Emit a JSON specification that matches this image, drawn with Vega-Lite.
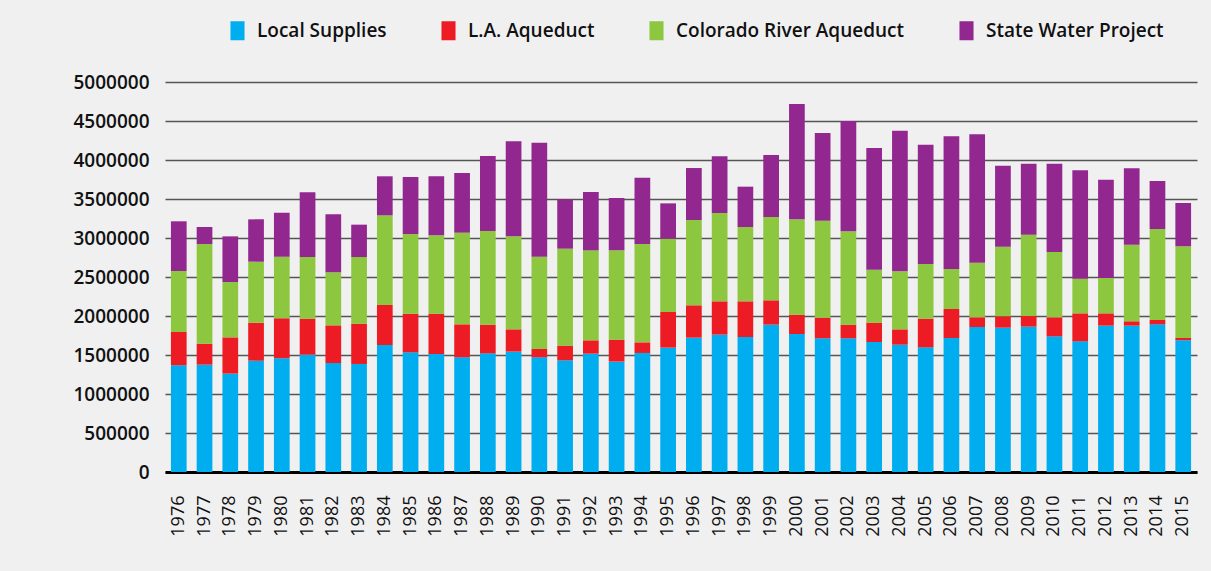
{
  "$schema": "https://vega.github.io/schema/vega-lite/v6.json",
  "autosize": {"type": "none"},
  "width": 1032,
  "height": 390,
  "padding": {"left": 165, "top": 82, "right": 14, "bottom": 99},
  "background": "#f0f0f1",
  "data": {
    "values": [
      {"year": "1976", "a_local": 1368000, "b_la": 427000, "c_cra": 782000, "d_swp": 637000},
      {"year": "1977", "a_local": 1376000, "b_la": 269000, "c_cra": 1278000, "d_swp": 218000},
      {"year": "1978", "a_local": 1261000, "b_la": 465000, "c_cra": 710000, "d_swp": 585000},
      {"year": "1979", "a_local": 1427000, "b_la": 488000, "c_cra": 782000, "d_swp": 542000},
      {"year": "1980", "a_local": 1457000, "b_la": 513000, "c_cra": 791000, "d_swp": 564000},
      {"year": "1981", "a_local": 1504000, "b_la": 462000, "c_cra": 790000, "d_swp": 829000},
      {"year": "1982", "a_local": 1397000, "b_la": 483000, "c_cra": 680000, "d_swp": 743000},
      {"year": "1983", "a_local": 1385000, "b_la": 517000, "c_cra": 854000, "d_swp": 415000},
      {"year": "1984", "a_local": 1628000, "b_la": 513000, "c_cra": 1150000, "d_swp": 500000},
      {"year": "1985", "a_local": 1534000, "b_la": 496000, "c_cra": 1021000, "d_swp": 731000},
      {"year": "1986", "a_local": 1513000, "b_la": 517000, "c_cra": 1004000, "d_swp": 757000},
      {"year": "1987", "a_local": 1470000, "b_la": 423000, "c_cra": 1175000, "d_swp": 765000},
      {"year": "1988", "a_local": 1521000, "b_la": 368000, "c_cra": 1201000, "d_swp": 961000},
      {"year": "1989", "a_local": 1543000, "b_la": 286000, "c_cra": 1192000, "d_swp": 1218000},
      {"year": "1990", "a_local": 1470000, "b_la": 107000, "c_cra": 1184000, "d_swp": 1461000},
      {"year": "1991", "a_local": 1432000, "b_la": 188000, "c_cra": 1243000, "d_swp": 633000},
      {"year": "1992", "a_local": 1517000, "b_la": 171000, "c_cra": 1154000, "d_swp": 748000},
      {"year": "1993", "a_local": 1415000, "b_la": 282000, "c_cra": 1145000, "d_swp": 671000},
      {"year": "1994", "a_local": 1526000, "b_la": 136000, "c_cra": 1261000, "d_swp": 851000},
      {"year": "1995", "a_local": 1594000, "b_la": 457000, "c_cra": 940000, "d_swp": 453000},
      {"year": "1996", "a_local": 1722000, "b_la": 415000, "c_cra": 1094000, "d_swp": 666000},
      {"year": "1997", "a_local": 1761000, "b_la": 427000, "c_cra": 1133000, "d_swp": 726000},
      {"year": "1998", "a_local": 1731000, "b_la": 457000, "c_cra": 953000, "d_swp": 517000},
      {"year": "1999", "a_local": 1889000, "b_la": 312000, "c_cra": 1068000, "d_swp": 795000},
      {"year": "2000", "a_local": 1769000, "b_la": 248000, "c_cra": 1222000, "d_swp": 1479000},
      {"year": "2001", "a_local": 1714000, "b_la": 265000, "c_cra": 1243000, "d_swp": 1124000},
      {"year": "2002", "a_local": 1714000, "b_la": 175000, "c_cra": 1196000, "d_swp": 1415000},
      {"year": "2003", "a_local": 1667000, "b_la": 248000, "c_cra": 679000, "d_swp": 1560000},
      {"year": "2004", "a_local": 1632000, "b_la": 197000, "c_cra": 744000, "d_swp": 1803000},
      {"year": "2005", "a_local": 1598000, "b_la": 368000, "c_cra": 701000, "d_swp": 1530000},
      {"year": "2006", "a_local": 1718000, "b_la": 372000, "c_cra": 513000, "d_swp": 1700000},
      {"year": "2007", "a_local": 1859000, "b_la": 124000, "c_cra": 701000, "d_swp": 1645000},
      {"year": "2008", "a_local": 1850000, "b_la": 146000, "c_cra": 893000, "d_swp": 1038000},
      {"year": "2009", "a_local": 1863000, "b_la": 137000, "c_cra": 1043000, "d_swp": 910000},
      {"year": "2010", "a_local": 1739000, "b_la": 244000, "c_cra": 837000, "d_swp": 1133000},
      {"year": "2011", "a_local": 1675000, "b_la": 359000, "c_cra": 445000, "d_swp": 1389000},
      {"year": "2012", "a_local": 1876000, "b_la": 158000, "c_cra": 453000, "d_swp": 1261000},
      {"year": "2013", "a_local": 1876000, "b_la": 56000, "c_cra": 983000, "d_swp": 978000},
      {"year": "2014", "a_local": 1893000, "b_la": 56000, "c_cra": 1166000, "d_swp": 616000},
      {"year": "2015", "a_local": 1688000, "b_la": 30000, "c_cra": 1175000, "d_swp": 556000}
    ]
  },
  "transform": [
    {"fold": ["a_local", "b_la", "c_cra", "d_swp"], "as": ["source", "value"]}
  ],
  "mark": {"type": "bar"},
  "encoding": {
    "x": {
      "field": "year",
      "type": "ordinal",
      "title": null,
      "scale": {"paddingInner": 0.39, "paddingOuter": 0.23},
      "axis": {
        "labelAngle": -90,
        "labelFont": "Open Sans",
        "labelFontSize": 18,
        "labelColor": "#111111",
        "labelPadding": 23,
        "ticks": false,
        "domainColor": "#000000",
        "domainWidth": 3,
        "grid": false
      }
    },
    "y": {
      "field": "value",
      "type": "quantitative",
      "stack": "zero",
      "title": null,
      "scale": {"domain": [0, 5000000], "nice": false},
      "axis": {
        "values": [0, 500000, 1000000, 1500000, 2000000, 2500000, 3000000, 3500000, 4000000, 4500000, 5000000],
        "format": "d",
        "labelFont": "Open Sans",
        "labelFontSize": 19,
        "labelFontWeight": 600,
        "labelColor": "#111111",
        "labelPadding": 16,
        "ticks": false,
        "domain": false,
        "grid": true,
        "gridColor": "#555555",
        "gridWidth": 1.5
      }
    },
    "order": {"field": "source", "sort": "ascending"},
    "color": {
      "field": "source",
      "type": "nominal",
      "scale": {
        "domain": ["a_local", "b_la", "c_cra", "d_swp"],
        "range": ["#00aeef", "#ed1c24", "#8dc63f", "#92278f"]
      },
      "legend": {
        "title": null,
        "orient": "none",
        "direction": "horizontal",
        "columns": 4,
        "legendX": 63,
        "legendY": -61,
        "labelExpr": "datum.value == 'a_local' ? 'Local Supplies' : datum.value == 'b_la' ? 'L.A. Aqueduct' : datum.value == 'c_cra' ? 'Colorado River Aqueduct' : 'State Water Project'",
        "symbolType": "M-0.74,-1H0.74V1H-0.74Z",
        "symbolSize": 361,
        "symbolStrokeWidth": 0,
        "labelFont": "Open Sans",
        "labelFontSize": 19,
        "labelFontWeight": 600,
        "labelColor": "#111111",
        "labelOffset": 10,
        "labelLimit": 400,
        "columnPadding": 52
      }
    }
  },
  "config": {"view": {"stroke": null}}
}
